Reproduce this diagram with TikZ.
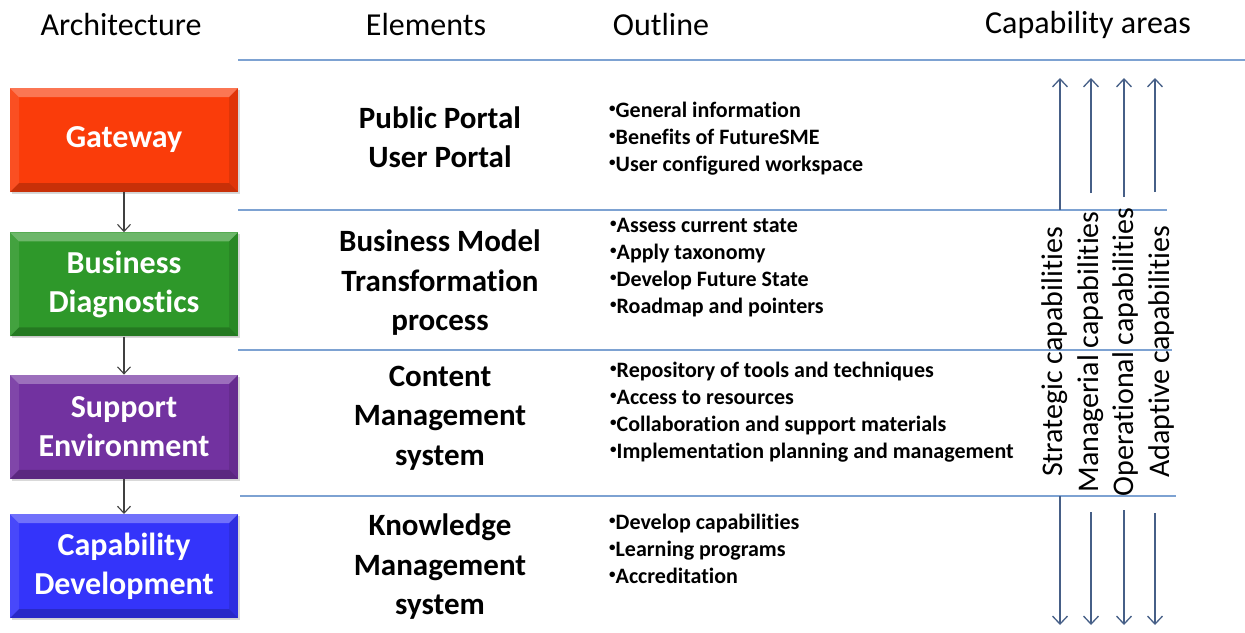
\documentclass[tikz,border=0pt]{standalone}
\usepackage{fontspec}
\setmainfont{Carlito}[Ligatures=NoCommon]
\usetikzlibrary{shapes,arrows,arrows.meta,positioning,shadows}

\definecolor{gatewayred}{RGB}{250,60,10}
\definecolor{diaggreen}{RGB}{46,152,42}
\definecolor{supportpurple}{RGB}{114,50,160}
\definecolor{capblue}{RGB}{52,52,250}
\definecolor{rulecolor}{RGB}{125,162,210}
\definecolor{capline}{RGB}{70,95,135}

% small raised bullet for the outline lists
\newcommand{\dotbullet}{\raisebox{5pt}{\fontsize{13}{13}\selectfont•}}

\tikzset{
	archbox/.style={rectangle, fill=#1, minimum width=228pt, minimum height=104pt,
		text=white, align=center, inner sep=0pt,
		font=\fontsize{32}{39}\selectfont\bfseries,
		drop shadow={opacity=.3, shadow xshift=2pt, shadow yshift=-2pt},
		path picture={
			% bevelled edges
			\coordinate (nw) at (path picture bounding box.north west);
			\coordinate (ne) at (path picture bounding box.north east);
			\coordinate (sw) at (path picture bounding box.south west);
			\coordinate (se) at (path picture bounding box.south east);
			\fill[white,opacity=.3] (nw) -- (ne) -- ([shift={(-9pt,-9pt)}]ne) -- ([shift={(9pt,-9pt)}]nw) -- cycle;
			\fill[white,opacity=.1] (nw) -- (sw) -- ([shift={(9pt,9pt)}]sw) -- ([shift={(9pt,-9pt)}]nw) -- cycle;
			\fill[black,opacity=.1] (ne) -- (se) -- ([shift={(-9pt,9pt)}]se) -- ([shift={(-9pt,-9pt)}]ne) -- cycle;
			\fill[black,opacity=.2] (sw) -- (se) -- ([shift={(-9pt,9pt)}]se) -- ([shift={(9pt,9pt)}]sw) -- cycle;
		}},
	header/.style={font=\fontsize{32}{39}\selectfont, inner sep=0pt},
	element/.style={font=\fontsize{31}{39.5}\selectfont\bfseries, align=center, inner sep=0pt},
	outline/.style={font=\fontsize{22}{27}\selectfont\bfseries, align=left, anchor=west, inner sep=0pt},
	rowrule/.style={rulecolor, line width=1.2pt},
	flow/.style={-{Straight Barb[length=7pt,width=13pt]}, black!75, line width=1.1pt},
	caparrow/.style={-{Straight Barb[length=8pt,width=15pt]}, capline, line width=1.3pt},
}

\begin{document}
\begin{tikzpicture}[x=1pt, y=-1pt]
			\useasboundingbox (0,0) rectangle (1245,632);

			% column headers
			\node[header] (harch) at (121,25) {Architecture};
			\node[header] (helem) at (426,25) {Elements};
			\node[header] (hout) at (661,25) {Outline};
			\node[header] (hcap) at (1088,25) {Capability areas};

			% separators
			\draw[rowrule] (238,60) -- (1245,60);
			\draw[rowrule] (238,210) -- (1167,210);
			\draw[rowrule] (238,350) -- (1172,350);
			\draw[rowrule] (240,496) -- (1176,496);

			% architecture
			\node[archbox=gatewayred] (gateway) at (124,140) {Gateway};
			\node[archbox=diaggreen] (diag) [below=40pt of gateway] {Business\\Diagnostics};
			\node[archbox=supportpurple] (support) [below=38pt of diag] {Support\\Environment};
			\node[archbox=capblue] (capdev) [below=35pt of support] {Capability\\Development};

			\draw[flow] (gateway) -- (diag);
			\draw[flow] (diag) -- (support);
			\draw[flow] (support) -- (capdev);

			% elements
			\node[element] (portal) at (440,137) {Public Portal\\User Portal};
			\node[element] (bmt) at (440,283) {Business Model\\Transformation\\process};
			\node[element] (cms) at (440,418) {Content\\Management\\system};
			\node[element] (kms) at (440,567) {Knowledge\\Management\\system};

			% outline
			\node[outline] (out1) at (609,139) {\dotbullet General information\\\dotbullet Benefits of FutureSME\\\dotbullet User configured workspace};
			\node[outline] (out2) at (610,268) {\dotbullet Assess current state\\\dotbullet Apply taxonomy\\\dotbullet Develop Future State\\\dotbullet Roadmap and pointers};
			\node[outline] (out3) at (610,412) {\dotbullet Repository of tools and techniques\\\dotbullet Access to resources\\\dotbullet Collaboration and support materials\\\dotbullet Implementation planning and management};
			\node[outline] (out4) at (609,549) {\dotbullet Develop capabilities\\\dotbullet Learning programs\\\dotbullet Accreditation};

			% capability areas
			\node[rotate=90, align=center, inner sep=0pt, font=\fontsize{30}{35.5}\selectfont] (capareas) at (1108,352)
				{Strategic capabilities\\Managerial capabilities\\Operational capabilities\\Adaptive capabilities};

			\foreach \i/\x/\s/\e in {1/1060/210/496, 2/1091/193/512, 3/1124/197/510, 4/1155/192/513} {
				\coordinate (upfrom\i) at (\x,\s);
				\coordinate (upto\i) at (\x,78);
				\coordinate (downfrom\i) at (\x,\e);
				\coordinate (downto\i) at (\x,625);
				\draw[caparrow] (upfrom\i) -- (upto\i);
				\draw[caparrow] (downfrom\i) -- (downto\i);
			}
\end{tikzpicture}
\end{document}
